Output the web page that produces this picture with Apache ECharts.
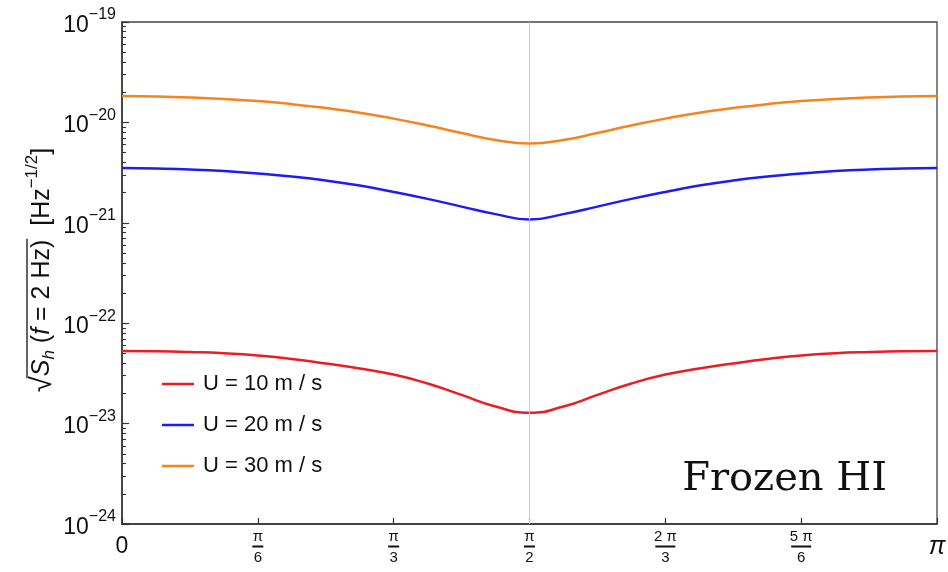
<!DOCTYPE html>
<html><head><meta charset="utf-8">
<script src="https://cdn.jsdelivr.net/npm/echarts@6/dist/echarts.min.js"></script>
<style>html,body{margin:0;padding:0;background:#fff}#c{width:948px;height:572px}</style>
</head><body><div id="c"></div>
<script>
// x sample positions (radians)
const angles = [0, 0.1309, 0.2618, 0.3927, 0.5236, 0.6545, 0.7854, 0.9163, 1.0472, 1.1781, 1.3090, 1.4399, 1.5708,
  1.7017, 1.8326, 1.9635, 2.0944, 2.2253, 2.3562, 2.4871, 2.6180, 2.7489, 2.8798, 3.0107, 3.14159];
const u10 = [5.28e-23, 5.25e-23, 5.16e-23, 5.02e-23, 4.77e-23, 4.40e-23, 3.97e-23, 3.54e-23, 3.08e-23, 2.51e-23, 1.93e-23, 1.48e-23, 1.28e-23,
  1.48e-23, 1.93e-23, 2.51e-23, 3.08e-23, 3.54e-23, 3.97e-23, 4.40e-23, 4.77e-23, 5.02e-23, 5.16e-23, 5.25e-23, 5.28e-23];
const u20 = [3.51e-21, 3.47e-21, 3.40e-21, 3.28e-21, 3.10e-21, 2.89e-21, 2.64e-21, 2.35e-21, 2.03e-21, 1.73e-21, 1.45e-21, 1.22e-21, 1.08e-21,
  1.22e-21, 1.45e-21, 1.73e-21, 2.03e-21, 2.35e-21, 2.64e-21, 2.89e-21, 3.10e-21, 3.28e-21, 3.40e-21, 3.47e-21, 3.51e-21];
const u30 = [1.83e-20, 1.81e-20, 1.77e-20, 1.71e-20, 1.63e-20, 1.52e-20, 1.39e-20, 1.25e-20, 1.09e-20, 9.31e-21, 7.84e-21, 6.68e-21, 6.16e-21,
  6.68e-21, 7.84e-21, 9.31e-21, 1.09e-20, 1.25e-20, 1.39e-20, 1.52e-20, 1.63e-20, 1.71e-20, 1.77e-20, 1.81e-20, 1.83e-20];
const seriesNames = ['U = 10 m / s', 'U = 20 m / s', 'U = 30 m / s'];
const xTickValues = [0, Math.PI / 6, Math.PI / 3, Math.PI / 2, 2 * Math.PI / 3, 5 * Math.PI / 6, Math.PI];
const xTickNums = ['0', 'π', 'π', 'π', '2 π', '5 π', 'π'];
const xTickDens = ['', '6', '3', '2', '3', '6', ''];
const yDecades = [-24, -23, -22, -21, -20, -19];
const yMinorTicks = [];
for (let e = -24; e < -19; e++) for (let k = 2; k <= 9; k++) yMinorTicks.push(e + Math.log10(k));

const FONT = '"Liberation Sans", Arial, sans-serif';
const colors = ['#ec1c24', '#1c1cf5', '#f5841f'];

function toPairs(ys) { return angles.map((a, i) => [a, ys[i]]); }

function xLabel(v) {
  let idx = Math.round(v / (Math.PI / 6));
  if (idx === 0) return '{big|0}';
  if (idx === 6) return '{bigi|π}';
  const n = xTickNums[idx];
  return '{n|' + n + '}\n' + (n.length > 1 ? '{barw| }' : '{bar| }') + '\n{d|' + xTickDens[idx] + '}';
}

const chart = echarts.init(document.getElementById('c'), null, {renderer: 'canvas'});

// y-axis title pieces, measured
const ctx = document.createElement('canvas').getContext('2d');
const parts = [
  {t: '√', font: '29px ' + FONT, dy: 1},
  {t: 'S', font: 'italic 25px ' + FONT, dy: 0, ol: true},
  {t: 'h', font: 'italic 17px ' + FONT, dy: 7, ol: true},
  {t: ' (', font: '25px ' + FONT, dy: 0, ol: true},
  {t: 'f', font: 'italic 25px ' + FONT, dy: 0, ol: true},
  {t: ' = 2 Hz)', font: '25px ' + FONT, dy: 0, ol: true},
  {t: '  [Hz', font: '25px ' + FONT, dy: 0},
  {t: '−1/2', font: '17px ' + FONT, dy: -10},
  {t: ']', font: '25px ' + FONT, dy: 0}
];
let total = 0;
parts.forEach(p => { ctx.font = p.font; p.w = ctx.measureText(p.t).width; total += p.w; });
let cx = -total / 2;
const titleChildren = [];
let olStart = null, olEnd = null;
parts.forEach(p => {
  titleChildren.push({type: 'text', x: cx, y: p.dy, style: {text: p.t, font: p.font, fill: '#111', align: 'left', verticalAlign: 'middle'}});
  if (p.ol) { if (olStart === null) olStart = cx; olEnd = cx + p.w; }
  cx += p.w;
});
titleChildren.push({type: 'line', shape: {x1: olStart - 2, y1: -15, x2: olEnd + 1, y2: -15}, style: {stroke: '#111', lineWidth: 1.3}});

const option = {
  animation: false,
  backgroundColor: '#fff',
  grid: {left: 122, right: 11, top: 22, bottom: 48, containLabel: false, outerBoundsMode: 'none',
    show: true, borderColor: '#444', borderWidth: 1.3, backgroundColor: 'transparent'},
  legend: {
    orient: 'vertical', left: 162, top: 373, padding: 0, itemWidth: 32, itemHeight: 2.5, itemGap: 19, icon: 'rect',
    textStyle: {fontFamily: FONT, fontSize: 22, color: '#111', padding: [0, 0, 0, 4]},
    data: seriesNames
  },
  xAxis: {
    type: 'value', min: 0, max: Math.PI,
    axisLine: {show: true, onZero: false, lineStyle: {color: '#333', width: 1.5}},
    axisTick: {show: true, inside: true, length: 6, customValues: xTickValues, lineStyle: {color: '#333', width: 1.2}},
    splitLine: {show: false},
    axisLabel: {
      customValues: xTickValues, margin: 6, formatter: xLabel, color: '#111',
      rich: {
        big: {fontFamily: FONT, fontSize: 23, lineHeight: 34, color: '#111'},
        bigi: {fontFamily: FONT, fontSize: 25, fontStyle: 'italic', lineHeight: 34, color: '#111'},
        n: {fontFamily: FONT, fontSize: 15, lineHeight: 14, color: '#111'},
        bar: {width: 11, height: 2, lineHeight: 5, backgroundColor: '#111', fontSize: 1},
        barw: {width: 20, height: 2, lineHeight: 5, backgroundColor: '#111', fontSize: 1},
        d: {fontFamily: FONT, fontSize: 15, lineHeight: 18, color: '#111'}
      }
    }
  },
  yAxis: [{
    type: 'log', logBase: 10, min: 1e-24, max: 1e-19,
    axisLine: {show: true, lineStyle: {color: '#333', width: 1.5}},
    axisTick: {show: false}, axisLabel: {show: false}, splitLine: {show: false}
  }, {
    type: 'value', min: -24, max: -19, position: 'left',
    axisLine: {show: false},
    axisTick: {show: true, inside: true, length: 7, customValues: yDecades, lineStyle: {color: '#333', width: 1.2}},
    splitLine: {show: false},
    axisLabel: {
      customValues: yDecades, margin: 6, color: '#111',
      formatter: function (v) { return '{b|10}{s|−' + (-Math.round(v)) + '}'; },
      rich: {
        b: {fontFamily: FONT, fontSize: 23, lineHeight: 30, verticalAlign: 'bottom', color: '#111'},
        s: {fontFamily: FONT, fontSize: 16, lineHeight: 16, height: 16, verticalAlign: 'top', color: '#111'}
      }
    }
  }, {
    type: 'value', min: -24, max: -19, position: 'left',
    axisLine: {show: false},
    axisTick: {show: true, inside: true, length: 4, customValues: yMinorTicks, lineStyle: {color: '#333', width: 1.1}},
    axisLabel: {show: false},
    splitLine: {show: false}
  }],
  series: [u10, u20, u30].map((d, i) => ({
    name: seriesNames[i], type: 'line', data: toPairs(d), yAxisIndex: 0,
    smooth: 0.5, symbol: 'none', showSymbol: false,
    lineStyle: {color: colors[i], width: 2.5}, itemStyle: {color: colors[i]},
    markLine: i === 0 ? {silent: true, symbol: 'none', label: {show: false},
      lineStyle: {color: '#cfcfcf', width: 1, type: 'solid'}, data: [{xAxis: Math.PI / 2}]} : undefined,
    z: 3 + i
  })),
  graphic: [
    {type: 'group', x: 42, y: 270, rotation: Math.PI / 2, children: titleChildren},
    {type: 'text', x: 887, y: 480, style: {text: 'Frozen HI', font: '40px "DejaVu Serif", serif', fill: '#111', align: 'right', verticalAlign: 'middle'}}
  ]
};
chart.setOption(option);
</script>
</body></html>
